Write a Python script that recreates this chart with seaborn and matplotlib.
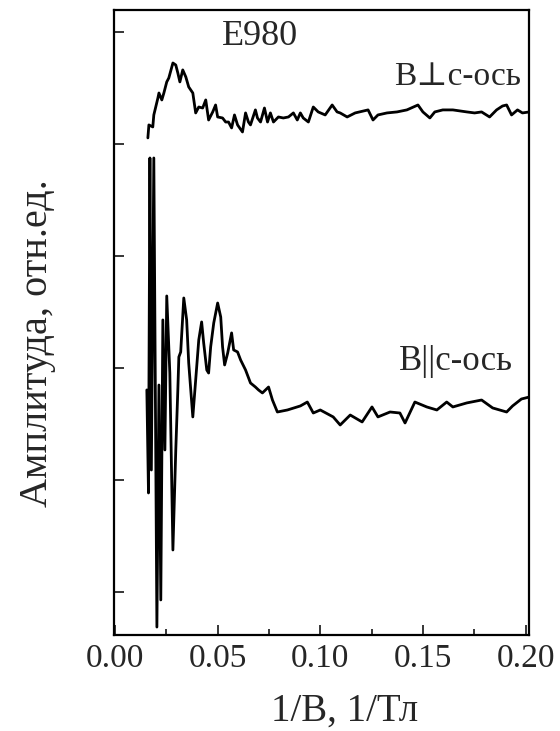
import matplotlib
matplotlib.use("Agg")
import matplotlib.pyplot as plt
import seaborn as sns
import numpy as np
import pandas as pd
from matplotlib.ticker import MultipleLocator, NullFormatter

# --- data (1/B in 1/T, amplitude in arbitrary units, one tick = 1 unit) ---
perp_x = [0.0160, 0.0165, 0.0184, 0.0189, 0.0209, 0.0214, 0.0228, 0.0238, 0.0252, 0.0262,
          0.0282, 0.0296, 0.0306, 0.0316, 0.0330, 0.0345, 0.0359, 0.0379, 0.0393, 0.0408,
          0.0427, 0.0442, 0.0456, 0.0476, 0.0490, 0.0500, 0.0524, 0.0539, 0.0553, 0.0568,
          0.0582, 0.0597, 0.0621, 0.0636, 0.0650, 0.0660, 0.0684, 0.0694, 0.0709, 0.0728,
          0.0743, 0.0757, 0.0772, 0.0796, 0.0820, 0.0845, 0.0869, 0.0888, 0.0903, 0.0917,
          0.0942, 0.0966, 0.0990, 0.1024, 0.1058, 0.1082, 0.1097, 0.1131, 0.1170, 0.1233,
          0.1257, 0.1281, 0.1325, 0.1374, 0.1422, 0.1476, 0.1500, 0.1534, 0.1558, 0.1597,
          0.1646, 0.1714, 0.1752, 0.1786, 0.1825, 0.1859, 0.1888, 0.1908, 0.1932, 0.1961,
          0.1985, 0.2019]
perp_y = [4.054, 4.170, 4.152, 4.259, 4.411, 4.455, 4.393, 4.455, 4.554, 4.589,
          4.723, 4.705, 4.634, 4.554, 4.661, 4.598, 4.509, 4.455, 4.277, 4.330,
          4.321, 4.393, 4.214, 4.286, 4.348, 4.241, 4.232, 4.196, 4.196, 4.143,
          4.259, 4.170, 4.107, 4.277, 4.196, 4.170, 4.304, 4.232, 4.196, 4.321,
          4.196, 4.277, 4.196, 4.241, 4.232, 4.241, 4.277, 4.214, 4.277, 4.232,
          4.196, 4.330, 4.286, 4.259, 4.348, 4.286, 4.277, 4.241, 4.277, 4.304,
          4.214, 4.259, 4.277, 4.286, 4.304, 4.348, 4.286, 4.232, 4.286, 4.304,
          4.304, 4.286, 4.277, 4.286, 4.241, 4.304, 4.339, 4.348, 4.259, 4.304,
          4.277, 4.286]

par_x = [0.0155, 0.0163, 0.0170, 0.0177, 0.0189, 0.0204, 0.0214, 0.0223, 0.0233, 0.0243,
         0.0252, 0.0267, 0.0282, 0.0296, 0.0306, 0.0311, 0.0320, 0.0335, 0.0349, 0.0359,
         0.0379, 0.0393, 0.0408, 0.0422, 0.0432, 0.0447, 0.0456, 0.0466, 0.0481, 0.0500,
         0.0515, 0.0524, 0.0534, 0.0549, 0.0568, 0.0578, 0.0597, 0.0612, 0.0636, 0.0660,
         0.0684, 0.0699, 0.0718, 0.0748, 0.0767, 0.0791, 0.0840, 0.0903, 0.0937, 0.0966,
         0.1000, 0.1063, 0.1097, 0.1146, 0.1204, 0.1252, 0.1281, 0.1340, 0.1388, 0.1413,
         0.1461, 0.1519, 0.1568, 0.1616, 0.1646, 0.1714, 0.1786, 0.1840, 0.1908, 0.1937,
         0.1980, 0.2019]
par_y = [1.804, 0.884, 3.875, 1.089, 3.875, -0.313, 1.848, -0.071, 2.429, 1.268,
         2.643, 1.955, 0.375, 1.268, 1.804, 2.098, 2.143, 2.625, 2.429, 2.045,
         1.563, 1.893, 2.250, 2.411, 2.223, 1.982, 1.955, 2.188, 2.402, 2.580,
         2.455, 2.188, 2.027, 2.134, 2.313, 2.161, 2.143, 2.071, 1.982, 1.866,
         1.830, 1.804, 1.777, 1.830, 1.714, 1.607, 1.625, 1.661, 1.696, 1.598,
         1.625, 1.563, 1.491, 1.580, 1.518, 1.652, 1.563, 1.607, 1.598, 1.509,
         1.696, 1.652, 1.625, 1.696, 1.652, 1.688, 1.714, 1.643, 1.607, 1.661,
         1.723, 1.741]

x_ticks = [0.00, 0.05, 0.10, 0.15, 0.20]
x_ticklabels = ["0.00", "0.05", "0.10", "0.15", "0.20"]
y_ticks = [0, 1, 2, 3, 4, 5]

sns.set_style("ticks")
serif = ["Liberation Serif", "DejaVu Serif"]
plt.rcParams["font.family"] = serif

fig = plt.figure(figsize=(5.6, 7.31), dpi=100)
ax = fig.add_axes([114/560, 1 - 635/731, 415/560, 625/731])

df_perp = pd.DataFrame({"x": perp_x, "y": perp_y})
df_par = pd.DataFrame({"x": par_x, "y": par_y})
sns.lineplot(data=df_perp, x="x", y="y", sort=False, estimator=None, color="black",
             linewidth=2.0, ax=ax)
sns.lineplot(data=df_par, x="x", y="y", sort=False, estimator=None, color="black",
             linewidth=2.0, ax=ax)

ax.set_xlim(-0.0005, 0.2017)
ax.set_ylim(-0.384, 5.196)
ax.set_xticks(x_ticks)
ax.set_xticklabels(x_ticklabels)
ax.xaxis.set_minor_locator(MultipleLocator(0.025))
ax.set_yticks(y_ticks)
ax.yaxis.set_major_formatter(NullFormatter())
ax.tick_params(axis="both", which="major", direction="in", length=7, width=1.3,
               labelsize=24, pad=6)
ax.tick_params(axis="x", which="minor", direction="in", length=4, width=1.3)
ax.tick_params(axis="y", which="minor", left=False)
for s in ax.spines.values():
    s.set_linewidth(1.6)
    s.set_color("black")
    s.set_visible(True)

ax.set_xlabel("1/B, 1/Тл", fontsize=28)
ax.set_ylabel("Амплитуда, отн.ед.", fontsize=29)
ax.xaxis.set_label_coords((345 - 114) / 415, -0.093)
ax.yaxis.set_label_coords(-0.14, 0.467)

ax.text(0.0704, 4.88, "E980", fontsize=26, ha="center", va="baseline")
ax.text(0.198, 4.527, "B⊥c-ось", fontsize=24, ha="right", va="baseline")
ax.text(0.1937, 1.98, "B||c-ось", fontsize=25, ha="right", va="baseline")

fig.savefig("out.png", dpi=100)
